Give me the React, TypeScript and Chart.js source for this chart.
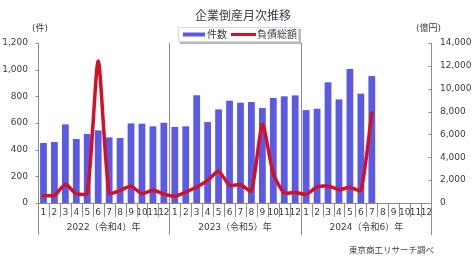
import React, { useEffect, useRef } from "react";
import { Chart, registerables } from "chart.js";

Chart.register(...registerables);

const monthLabels = [
  "1", "2", "3", "4", "5", "6", "7", "8", "9", "10", "11", "12",
  "1", "2", "3", "4", "5", "6", "7", "8", "9", "10", "11", "12",
  "1", "2", "3", "4", "5", "6", "7", "8", "9", "10", "11", "12",
];
const yearLabels = ["2022（令和4）年", "2023（令和5）年", "2024（令和6）年"];

const counts = [
  450, 457, 590, 480, 518, 545, 492, 487, 597, 595, 575, 602,
  570, 575, 808, 607, 702, 767, 752, 758, 712, 788, 800, 807,
  697, 707, 905, 777, 1005, 820, 952, null, null, null, null, null,
];
const debts = [
  645, 670, 1630, 820, 850, 12420, 875, 1110, 1460, 820, 1110, 790,
  583, 963, 1400, 1980, 2770, 1550, 1600, 1050, 6880, 2570, 875, 933,
  760, 1400, 1490, 1170, 1370, 1110, 7870, null, null, null, null, null,
];

const titleText = "企業倒産月次推移";
const countLabel = "件数";
const debtLabel = "負債総額";
const leftUnit = "(件)";
const rightUnit = "(億円)";
const sourceText = "東京商工リサーチ調べ";

const BAR_COLOR = "#5a5ae2";
const LINE_COLOR = "#d50f25";
const TEXT_COLOR = "#3a3a46";
const AXIS_COLOR = "#8c8c8c";
const FONT = "'DejaVu Sans', 'Noto Sans CJK JP', sans-serif";
const JFONT = "'Noto Sans CJK JP', sans-serif";

const decoPlugin = {
  id: "deco",
  beforeDatasetsDraw(chart: any) {
    const { ctx, chartArea: a, scales } = chart;
    const x = scales.x;
    const y = scales.y;
    const y1 = scales.y1;
    ctx.save();
    ctx.strokeStyle = AXIS_COLOR;
    ctx.lineWidth = 1;
    const line = (x0: number, yA: number, x1: number, yB: number) => {
      ctx.beginPath();
      ctx.moveTo(x0, yA);
      ctx.lineTo(x1, yB);
      ctx.stroke();
    };
    const n = monthLabels.length;
    const half = (x.getPixelForValue(1) - x.getPixelForValue(0)) / 2;
    for (let i = 1; i < n; i++) {
      const px = Math.round(x.getPixelForValue(i) - half) + 0.5;
      if (i % 12 === 0) line(px, a.top, px, a.bottom + 32);
      else line(px, a.bottom, px, a.bottom + 14);
    }
    const lx = Math.round(a.left) + 0.5;
    const rx = Math.round(a.right) - 0.5;
    line(lx, a.top, lx, a.bottom + 32);
    line(rx, a.top, rx, a.bottom + 32);
    const by = Math.round(a.bottom) + 0.5;
    line(a.left, by, a.right, by);
    y.ticks.forEach((t: any) => {
      const py = Math.round(y.getPixelForValue(t.value)) + 0.5;
      line(lx - 3, py, lx, py);
    });
    y1.ticks.forEach((t: any) => {
      const py = Math.round(y1.getPixelForValue(t.value)) + 0.5;
      line(rx - 3, py, rx, py);
    });
    ctx.restore();
  },
  afterDraw(chart: any) {
    const { ctx, chartArea: a, scales } = chart;
    const x = scales.x;
    ctx.save();
    ctx.fillStyle = TEXT_COLOR;
    // title
    ctx.font = `12px ${JFONT}`;
    ctx.textAlign = "center";
    ctx.textBaseline = "middle";
    ctx.fillText(titleText, 243, 15);
    // units
    ctx.font = `9px ${FONT}`;
    ctx.textAlign = "left";
    ctx.fillText(leftUnit, 32, 29);
    ctx.fillText(rightUnit, 416, 29);
    // year labels
    ctx.font = `9px ${FONT}`;
    ctx.textAlign = "center";
    yearLabels.forEach((lab, k) => {
      const c = (x.getPixelForValue(k * 12) + x.getPixelForValue(k * 12 + 11)) / 2;
      ctx.fillText(lab, c, a.bottom + 25);
    });
    // source
    ctx.font = `8.5px ${JFONT}`;
    ctx.textAlign = "right";
    ctx.fillText(sourceText, 434, 250);
    // legend box
    const bx = 178, byy = 27, bw = 121, bh = 15;
    ctx.fillStyle = "#b8b8c0";
    ctx.fillRect(bx + 2, byy + 2, bw, bh);
    ctx.fillStyle = "#ffffff";
    ctx.fillRect(bx, byy, bw, bh);
    ctx.strokeStyle = "#d8d8d8";
    ctx.lineWidth = 1;
    ctx.strokeRect(bx + 0.5, byy + 0.5, bw - 1, bh - 1);
    const ly = byy + bh / 2;
    const ds = chart.data.datasets;
    ctx.fillStyle = ds[0].backgroundColor;
    ctx.fillRect(183, ly - 2, 22, 4);
    ctx.strokeStyle = ds[1].borderColor;
    ctx.lineWidth = 3;
    ctx.beginPath();
    ctx.moveTo(231, ly);
    ctx.lineTo(256, ly);
    ctx.stroke();
    ctx.fillStyle = TEXT_COLOR;
    ctx.font = `10px ${JFONT}`;
    ctx.textAlign = "left";
    ctx.textBaseline = "middle";
    ctx.fillText(ds[0].label, 207, ly);
    ctx.fillText(ds[1].label, 257, ly);
    ctx.restore();
  },
};

export default function App() {
  const ref = useRef<HTMLCanvasElement | null>(null);
  useEffect(() => {
    document.body.style.margin = "0";
    if (!ref.current) return;
    const chart = new Chart(ref.current, {
      type: "bar",
      data: {
        labels: monthLabels,
        datasets: [
          {
            type: "bar",
            label: countLabel,
            data: counts,
            backgroundColor: BAR_COLOR,
            barPercentage: 0.62,
            categoryPercentage: 1,
            yAxisID: "y",
            order: 2,
          } as any,
          {
            type: "line",
            label: debtLabel,
            data: debts,
            borderColor: LINE_COLOR,
            backgroundColor: LINE_COLOR,
            borderWidth: 3.5,
            pointRadius: 0,
            tension: 0.22,
            borderJoinStyle: "round",
            borderCapStyle: "round",
            yAxisID: "y1",
            order: 1,
          } as any,
        ],
      },
      options: {
        animation: false,
        responsive: false,
        devicePixelRatio: 1,
        layout: { padding: { top: 43, left: 0, right: 0, bottom: 0 } },
        plugins: {
          legend: { display: false },
          title: { display: false },
          tooltip: { enabled: false },
        },
        scales: {
          x: {
            type: "category",
            offset: true,
            grid: { display: false, drawTicks: false },
            border: { display: false },
            ticks: {
              autoSkip: false,
              maxRotation: 0,
              minRotation: 0,
              padding: 4,
              color: TEXT_COLOR,
              font: { size: 9, family: FONT },
            },
            afterFit(s: any) {
              s.height = 57;
            },
          },
          y: {
            position: "left",
            min: 0,
            max: 1200,
            grid: { display: false, drawTicks: false },
            border: { display: false },
            ticks: {
              stepSize: 200,
              padding: 10,
              color: TEXT_COLOR,
              font: { size: 9, family: FONT },
              callback: (v: any) => Number(v).toLocaleString("en-US"),
            },
            afterFit(s: any) {
              s.width = 38;
            },
          },
          y1: {
            position: "right",
            min: 0,
            max: 14000,
            grid: { display: false, drawTicks: false },
            border: { display: false },
            ticks: {
              stepSize: 2000,
              padding: 8,
              color: TEXT_COLOR,
              font: { size: 9, family: FONT },
              callback: (v: any) => Number(v).toLocaleString("en-US"),
            },
            afterFit(s: any) {
              s.width = 42;
            },
          },
        },
      } as any,
      plugins: [decoPlugin],
    });
    return () => chart.destroy();
  }, []);
  return (
    <div style={{ width: 474, height: 260, background: "#ffffff" }}>
      <canvas ref={ref} width={474} height={260} style={{ width: 474, height: 260, display: "block" }} />
    </div>
  );
}
